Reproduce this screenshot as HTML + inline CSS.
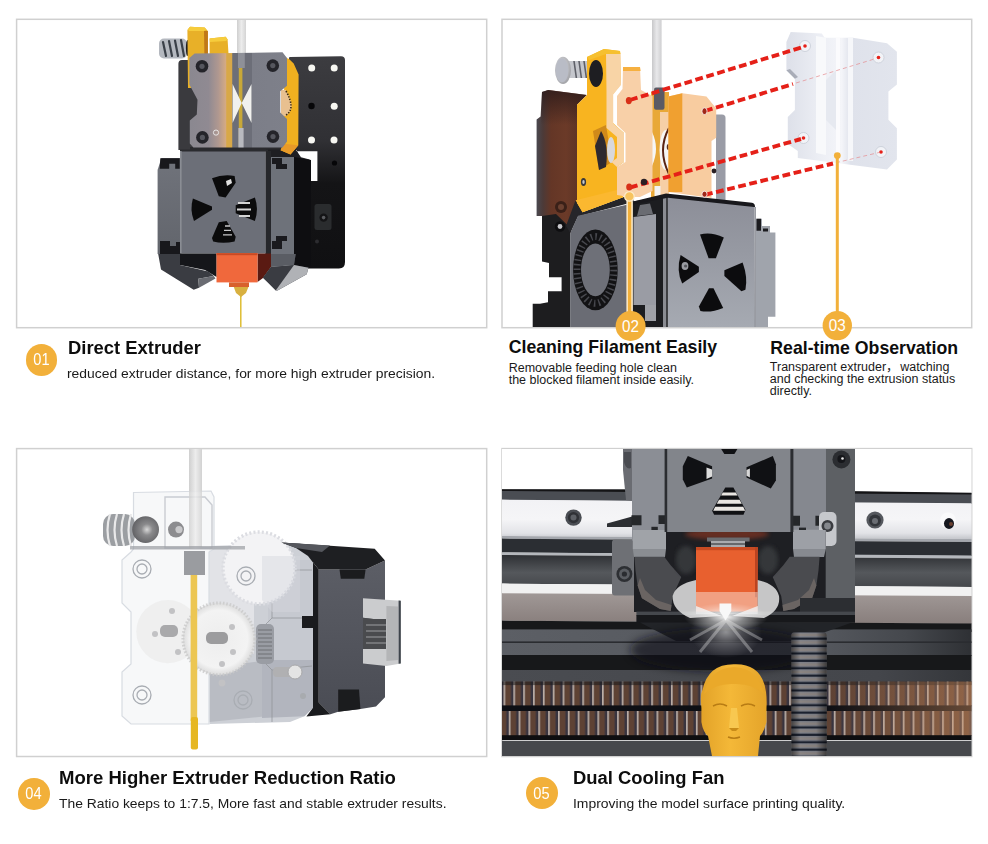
<!DOCTYPE html>
<html lang="en">
<head>
<meta charset="utf-8">
<title>Extruder Features</title>
<style>
html,body{margin:0;padding:0;background:#fff;}
body{width:988px;height:844px;position:relative;overflow:hidden;font-family:"Liberation Sans","Noto Sans CJK SC",sans-serif;color:#111;}
#art{position:absolute;left:0;top:0;width:988px;height:844px;display:block;}
.t{position:absolute;white-space:nowrap;line-height:1;transform-origin:0 0;}
.h{font-weight:bold;color:#0d0d0d;}
.s{color:#1a1a1a;}
.b{position:absolute;border-radius:50%;background:#f2b03a;color:#fff;text-align:center;font-size:17px;}
.b span{display:inline-block;transform:scaleX(0.86);}
</style>
</head>
<body>
<svg id="art" width="988" height="844" viewBox="0 0 988 844">
<defs>
<filter id="soft" x="-5%" y="-5%" width="110%" height="110%"><feGaussianBlur stdDeviation="0.6"/></filter>
<filter id="blur2" x="-10%" y="-10%" width="120%" height="120%"><feGaussianBlur stdDeviation="2"/></filter>
<filter id="blur4" x="-20%" y="-20%" width="140%" height="140%"><feGaussianBlur stdDeviation="4"/></filter>
<clipPath id="c1"><rect x="17" y="20" width="469" height="307"/></clipPath>
<clipPath id="c2"><rect x="502" y="20" width="469" height="307"/></clipPath>
<clipPath id="c3"><rect x="17" y="449" width="469" height="307"/></clipPath>
<clipPath id="c4"><rect x="502" y="449" width="469.5" height="307"/></clipPath>
</defs>
<!-- panel frames -->
<g fill="#fff" stroke="#d0d0d0" stroke-width="1.5">
<rect x="16.6" y="19.3" width="470.1" height="308.4"/>
<rect x="502" y="19.3" width="469.7" height="308.4"/>
<rect x="16.6" y="448.6" width="470.1" height="307.9"/>
<rect x="502" y="448.6" width="469.7" height="307.9"/>
</g>
<g id="p1" clip-path="url(#c1)">
<defs>
<linearGradient id="p1tube" x1="0" x2="1" y1="0" y2="0"><stop offset="0" stop-color="#cfcfcf"/><stop offset=".5" stop-color="#ececec"/><stop offset="1" stop-color="#d4d4d4"/></linearGradient>
<linearGradient id="p1cov" gradientUnits="userSpaceOnUse" x1="189" x2="287" y1="0" y2="0"><stop offset="0" stop-color="#8a8890"/><stop offset=".2" stop-color="#908a92"/><stop offset=".3" stop-color="#b09890"/><stop offset=".375" stop-color="#d4aa84"/><stop offset=".385" stop-color="#d8a848"/><stop offset=".44" stop-color="#d8a848"/><stop offset=".445" stop-color="#6c6e78"/><stop offset=".64" stop-color="#6c6e78"/><stop offset=".645" stop-color="#7c7e88"/><stop offset="1" stop-color="#7e808a"/></linearGradient>
<linearGradient id="p1plate" x1="0" x2="0" y1="0" y2="1"><stop offset="0" stop-color="#3c3c40"/><stop offset=".4" stop-color="#303034"/><stop offset=".6" stop-color="#141416"/><stop offset="1" stop-color="#101012"/></linearGradient>
<linearGradient id="p1side" x1="0" x2="0" y1="0" y2="1"><stop offset="0" stop-color="#70737b"/><stop offset="1" stop-color="#62656c"/></linearGradient>
</defs>
<!-- tube -->
<rect x="237" y="20" width="9" height="40" fill="url(#p1tube)"/>
<!-- spring -->
<g>
<rect x="159" y="38.5" width="28" height="20" rx="5" fill="#b4b8bf"/>
<g stroke="#3a4048" stroke-width="2.2" stroke-linecap="round"><path d="M163 42l3 14M169 41l3 15M175 40.5l3 15.5M181 40l3 16"/></g>
<ellipse cx="187.5" cy="48" rx="1.6" ry="8" fill="#1e1e22"/>
</g>
<!-- right black plate -->
<path d="M289 58 Q289 57 290 57 L341 56.3 Q345 56.5 345 60 L345 262 Q345 268.5 339 268.5 L297 268.5 L297 150 L289 150Z" fill="url(#p1plate)"/>
<!-- holes in plate -->
<g fill="#f7f7f2"><circle cx="311.7" cy="68" r="3.5"/><circle cx="334.2" cy="68" r="3.5"/><circle cx="334.2" cy="106.3" r="3.5"/><circle cx="311.5" cy="140" r="3.5"/><circle cx="334" cy="140" r="3.5"/></g>
<circle cx="311.5" cy="106" r="3.2" fill="#060608"/>
<circle cx="334.5" cy="163" r="2.6" fill="#060608"/>
<path d="M296.9 151.2 L317.4 151.2 L317.4 181 L311 181 L309.6 159.4 L301 157.3Z" fill="#fff"/>
<!-- back plate left -->
<path d="M178.4 64 Q178.4 60 182 60 L199 60 L199 150 L178.4 150Z" fill="#3a3a3e"/>
<rect x="190" y="147" width="97" height="3.4" fill="#2a2a2e"/>
<!-- yellow blocks top-left -->
<path d="M187.4 30 L190 26.7 L204.6 27.4 L207.9 31 L207.9 56 L194 56 L191 88 L188 88 Z" fill="#e8b028"/>
<path d="M187.6 29.6 L190 26.7 L204.6 27.4 L206.5 29.6 L204 31 L189 31Z" fill="#f6cc3c"/>
<path d="M204 31 L207.9 31 L207.9 56 L204.4 56Z" fill="#c07818"/>
<path d="M209.6 38.6 L225.7 36.7 L227.6 39.5 L228.6 56 L209.6 56Z" fill="#e8b028"/>
<path d="M209.6 38.6 L225.7 36.7 L227.6 39.5 L226 41 L210 42Z" fill="#f6cc3c"/>
<path d="M266 149.4 L296 149.4 L300 157.5 L294 160 L266 160Z" fill="#1e1e22"/>
<!-- right yellow -->
<path d="M284.5 57 L289 59 L293.7 63.5 L298.6 74.6 L298.3 145.2 L290.5 154.4 L280.6 150.2 L283.4 143.8Z" fill="#f0b020"/>
<path d="M283.4 143.8 L298.3 145.2 L290.5 154.4 L280.6 150.2Z" fill="#e89a28"/>
<path d="M281 90 L286 90 Q291.5 100 291.5 106 Q291.5 112 286 116 L281 116Z" fill="#e8c090"/>
<path d="M286 91 Q291 100 291 106 Q291 112 286 115" fill="none" stroke="#3a2a10" stroke-width="1.6" stroke-dasharray="1.4 1.4"/>
<!-- gray cover -->
<path d="M194.6 53.4 L282.5 52.3 L287 57.9 L287 85.7 L280.3 91.3 L280.3 112.4 L287 119 L287 141.5 L282.5 147.4 L193.4 147.4 L189.8 143.4 L189.8 120.6 L196.8 114.5 L197.5 99.7 L189.4 84.6 L189.4 57.9Z" fill="url(#p1cov)"/>
<!-- centre channel -->
<rect x="238.8" y="67" width="3.6" height="80" fill="#c8a838"/>
<rect x="238" y="53" width="6.8" height="15" fill="#8e9098"/>
<path d="M232.6 84 L241.7 103 L232.6 123Z M251.5 84 L241.7 103 L251.5 123Z" fill="#f1f1ee"/>
<rect x="238.4" y="128" width="5.2" height="19.4" fill="#b9bac0"/>
<!-- screws -->
<g fill="#24242a"><circle cx="202" cy="66.3" r="6.3"/><circle cx="272.8" cy="65.6" r="6.3"/><circle cx="202.4" cy="137.4" r="6.3"/><circle cx="273" cy="136.6" r="6.3"/></g>
<g fill="#55565e"><circle cx="202" cy="66.3" r="2.6"/><circle cx="272.8" cy="65.6" r="2.6"/><circle cx="202.4" cy="137.4" r="2.6"/><circle cx="273" cy="136.6" r="2.6"/></g>
<circle cx="216" cy="132.6" r="2.6" fill="none" stroke="#ececec" stroke-width="0.9"/>
<!-- fan / right dark -->
<path d="M294 157 L311 160 L311 266 L294 266Z" fill="#0e0e11"/>
<!-- screw mount -->
<rect x="314.5" y="204" width="17" height="26" rx="2.5" fill="#2a2c2e"/>
<circle cx="323.6" cy="217.6" r="4.2" fill="#141416"/><circle cx="323.6" cy="217.6" r="1.8" fill="#5a5c60"/>
<circle cx="317" cy="241.5" r="2" fill="#2c2c30"/>
<!-- cube sides -->
<path d="M157.6 170 L161.4 158 L180.5 158 L180.5 254 L157.6 254Z" fill="url(#p1side)"/>
<path d="M160.3 158.2 h19.4 v10.6 h-4.5 v-5 h-6 v5 h-9.5Z M160 241 h10 v5 h6 v-4 h4 v12 h-20Z" fill="#18181c"/>
<path d="M271 157 L294 157 L294 254 L271 254Z" fill="#6e727a"/>
<rect x="265.3" y="151" width="5.7" height="103" fill="#26272b"/>
<path d="M272 158 h10 v6 h5 v5 h-11 v-5 h-4Z M272 241 h4 v-5 h11 v5 h-5 v8 h-10Z" fill="#1a1a1e"/>
<!-- cube front -->
<path d="M180 151 L265.4 151 L265.4 253.4 L180 253.4Z" fill="#6c6f78"/>
<path d="M180 149.4 L268 149.4 L268 151.4 L180 151.4Z" fill="#2a2b2f"/>
<rect x="180" y="151" width="1.6" height="102.4" fill="#8a8d94"/>
<!-- cutouts -->
<g fill="#0b0b0c">
<path d="M212 178.3 Q223 174 234.6 176 L235.7 182.8 L225.6 197.4 L218.8 196.3Z"/>
<path d="M192.9 198.6 L212 206.4 L212 209.8 L194 221 Q189.6 210 192.9 198.6Z"/>
<path d="M235.7 205.3 L254.9 197.4 Q259 209 254.9 221 L235.7 213.2Z"/>
<path d="M218.8 222.2 L226.7 221 L235.7 236.8 L234.6 241.4 Q223 244 213.2 241.4 L212 238Z"/>
</g>
<g stroke="#d4d4d4" stroke-width="2"><path d="M238 203h12M237 209.5h14M239 216h11"/></g><g stroke="#c8c8c8" stroke-width="1.3"><path d="M225 226h5M224 230.4h7M223 234.8h9"/></g>
<path d="M226 181l5-2 1 4-5 3Z" fill="#e0e0e0"/>
<!-- under cube -->
<path d="M180 253.4 L216.6 253.4 L216.6 277 L205 270 L180 265Z" fill="#15161a"/>
<path d="M257.5 253.4 L271 253.4 L271 267 L263 278 L257.5 282Z" fill="#5a1a12"/>
<!-- ducts -->
<path d="M158.2 254 L180 254 L180 265 L208.3 271.4 L213.8 276 L198.3 278.7 L199 287.8 L193.7 289.7 L161 269.6Z" fill="#3a3c42"/>
<path d="M198.3 278.7 L213.8 276 L215.5 278.4 L199 287.8Z" fill="#6a6c72"/>
<path d="M263 277.8 L271 267 L294 265 L295.7 254 L294 254 L294 265 L308.5 267.8 L306.7 274.2 L277.5 290.6 L275.7 290.6Z" fill="#3a3c42"/>
<path d="M263 277.8 L271 267 L294 265 L277 290 Z" fill="#3a3c42"/>
<path d="M294 265 L308.5 267.8 L306.7 274.2 L277.5 290.6 L275.7 290.6Z" fill="#b0b2b6"/>
<path d="M271 254 L295.7 254 L294 265 L271 267Z" fill="#5a5d64"/>
<!-- orange block -->
<rect x="216.5" y="253.2" width="41" height="29.2" fill="#f0683c"/>
<rect x="216.5" y="253.2" width="41" height="2" fill="#c94a24"/>
<!-- nozzle -->
<rect x="229" y="282.4" width="20" height="4.6" fill="#d8602c"/>
<path d="M233.8 287 L248.4 287 L246 293 L241 297 L236 293Z" fill="#d8b040"/>
<path d="M240.8 296 L240.8 327" stroke="#dcb824" stroke-width="1.4"/>
</g>

<g id="p2" clip-path="url(#c2)">
<defs>
<linearGradient id="p2tube" x1="0" x2="1" y1="0" y2="0"><stop offset="0" stop-color="#c8c8ca"/><stop offset=".5" stop-color="#e8e8ea"/><stop offset="1" stop-color="#cfcfd1"/></linearGradient>
<linearGradient id="p2motor" gradientUnits="userSpaceOnUse" x1="536" x2="586" y1="0" y2="0"><stop offset="0" stop-color="#4a4a52"/><stop offset=".14" stop-color="#4c3a38"/><stop offset=".3" stop-color="#643626"/><stop offset=".6" stop-color="#6b3a28"/><stop offset="1" stop-color="#553024"/></linearGradient>
<linearGradient id="p2mtop" x1="0" x2="0" y1="0" y2="1"><stop offset="0" stop-color="#2a1a1a" stop-opacity=".8"/><stop offset="1" stop-color="#2a1a1a" stop-opacity="0"/></linearGradient>
<linearGradient id="p2cover" x1="0" x2="1" y1="0" y2="0"><stop offset="0" stop-color="#dde0e9"/><stop offset=".3" stop-color="#eceef4"/><stop offset=".5" stop-color="#f4f5f9"/><stop offset=".58" stop-color="#dfe2eb"/><stop offset="1" stop-color="#e2e5ed"/></linearGradient>
<linearGradient id="p2front" x1="0" x2="0" y1="0" y2="1"><stop offset="0" stop-color="#8c8e98"/><stop offset=".45" stop-color="#979aa3"/><stop offset="1" stop-color="#a6aab2"/></linearGradient>
<radialGradient id="p2silver" cx=".4" cy=".4" r=".7"><stop offset="0" stop-color="#e8e8ea"/><stop offset="1" stop-color="#9a9ba0"/></radialGradient>
</defs>
<!-- tube -->
<rect x="652" y="20" width="9.6" height="72" fill="url(#p2tube)"/>
<!-- motor block -->
<path d="M536.6 119.4 L540.6 116.4 L542 92 L548.2 90 L586.7 95.1 L577 104.7 L577 203.3 L583.8 211.8 L575.6 216 L570.4 233 L542 233 L542 216 L536.6 216Z" fill="url(#p2motor)"/>
<path d="M542 92 L548.2 90 L586.7 95.1 L577 104.7 L577 125 L541 125Z" fill="url(#p2mtop)"/>
<!-- black lower-left -->
<path d="M542 216 L556 214 L570.4 228 L570.4 327.5 L532.7 327.5 L532.7 303.8 L540 303.8 L548 302.2 L548 291.3 L561.6 291.3 L561.6 277.2 L549 277.2 L549 263 L542 261.6Z" fill="#1d1d1f"/>
<path d="M575.6 200.3 L582.5 212.3 L623.7 196.9 L633 195 L633.6 202 L578 216.5 L570.4 233 L566 226Z" fill="#26262a"/>
<circle cx="560" cy="226.5" r="5.2" fill="#0e0e10"/><circle cx="560" cy="226.5" r="2.4" fill="#c8c8cc"/>
<circle cx="561" cy="207" r="6" fill="#3a2018"/><circle cx="561" cy="207" r="3" fill="#6a4030"/>
<!-- spring button -->
<rect x="566" y="61" width="28" height="17" rx="3" fill="#c4c6cc"/>
<g stroke="#5e6068" stroke-width="1.6"><path d="M574 61l2.4 17M579 61l2.4 17M584 61l2.4 17M589 61l2.4 17"/></g>
<ellipse cx="563" cy="70.3" rx="8" ry="13.6" fill="url(#p2silver)"/>
<ellipse cx="562" cy="70.3" rx="6.4" ry="12" fill="#b9bcc6"/>
<!-- yellow body -->
<path d="M587 57 L604 49 L620 51 L621 84 L613 94 L613 123 L624 133 L624 162 L617 167 L617 196 L623.7 197 L582.5 212.3 L577 203 L577 104.7 L587 95Z" fill="#f8b420"/>
<path d="M575.6 200.3 L617 190 L623.7 196.9 L582.5 212.3Z" fill="#fbb830"/>
<ellipse cx="596" cy="73.5" rx="7" ry="13.4" fill="#1e1e22"/>
<path d="M593 131 L606 125 L612 162 L599 170Z" fill="#d08a1a"/>
<path d="M601 131 Q609 144 606 167 L599 170 L595 146Z" fill="#2e2a30"/>
<ellipse cx="611" cy="150" rx="4" ry="13" fill="#d8d8dc"/>
<path d="M606 53.5 L620.6 53.5 L621 85 L613.2 94.6 L613.2 123.4 L624 133 L624 162 L617 167 L611.5 162 L617 158 L617 137 L606.5 128 L606.5 92Z" fill="#f8d4a6"/>
<path d="M587 57 L604 49 L620 51 L620.6 54 L606 54 L589 60Z" fill="#f6c030"/>
<ellipse cx="583.5" cy="182" rx="2.6" ry="4" fill="#3a3a3c"/><ellipse cx="583.5" cy="182" rx="1.2" ry="2" fill="#c8c8c8"/>
<!-- gray plate behind right block -->
<path d="M716 114.5 L722 114.5 Q725.5 114.5 725.5 118 L725.5 200 L716 200Z" fill="#9a9ca6"/>
<!-- centre gap -->
<rect x="651" y="92" width="18" height="105" fill="#e8a838"/>
<rect x="660" y="112" width="9" height="85" fill="#f6cfa6"/>
<rect x="654" y="87.4" width="10.5" height="22.4" rx="2" fill="#5a5a64"/>
<path d="M652 132 Q660 148 652 166Z" fill="#f6f6f6"/>
<ellipse cx="666" cy="150" rx="6.5" ry="20" fill="#f6f6f6"/>
<path d="M669 128 Q657 150 669 174" fill="none" stroke="#5a2414" stroke-width="2"/>
<ellipse cx="668.5" cy="147" rx="1.8" ry="3" fill="#5a3020"/>
<rect x="654.5" y="186" width="6" height="10" fill="#f2f2f2"/>
<!-- peach face left -->
<path d="M623 67 L640 67 L641 90 L652.5 96 L652.5 191 L640 197 L630 197 L617 195 L617 167 L625.5 162 L625.5 133 L617 125 L617 96 L622.5 89Z" fill="#f8d0a8"/>
<path d="M623 67 L640 67 L640.6 71 L623 71Z" fill="#f6b040"/>
<!-- right block -->
<path d="M668.4 96.4 L682.3 93.3 L706.5 96.4 L716.2 108.6 L716.2 137.7 L711.5 141 L711.5 198 L668.4 192Z" fill="#f8cca0"/>
<path d="M668.4 96.4 L682.3 93.3 L682.3 192 L668.4 192Z" fill="#f0a030"/>
<!-- fan face -->
<path d="M570.3 233 L578 215.8 L625.6 204.9 L633.6 201.6 L633.6 327.5 L570.3 327.5Z" fill="#6a6c74"/>
<ellipse cx="595.4" cy="269.9" rx="22.3" ry="40.4" fill="#121214"/>
<ellipse cx="595.4" cy="269.9" rx="18.4" ry="33.4" fill="none" stroke="#6a6c74" stroke-width="7" stroke-dasharray="1.5 3.1" opacity=".6"/>
<ellipse cx="595.4" cy="269.9" rx="14.4" ry="26.4" fill="#6e7078"/>
<!-- cube left side -->
<path d="M633 201.6 L667.9 195.5 L667.9 327.5 L633 327.5Z" fill="#1c1d20"/>
<path d="M633.5 217 L656 214 L656 305 L633.5 305Z" fill="#9a9ca4"/>
<path d="M640 205 L650 203.5 L653 214 L637 216Z" fill="#6a6c72"/>
<rect x="663" y="198" width="3.3" height="129.5" fill="#8a8c92"/>
<rect x="645" y="305" width="11" height="16" fill="#a0a2a8"/>
<!-- cube top bevel + front -->
<path d="M667.9 196.2 L754.1 205.3 L754.7 327.5 L667.9 327.5Z" fill="url(#p2front)"/>
<path d="M633 201.6 L666 193.6 L752 202.8 Q755 203.4 755 207 L754.1 207 L667.9 197.8 L633 204.4Z" fill="#18181c"/>
<g fill="#0c0c0e">
<path d="M700 234.5 Q711 231.5 723.8 237.5 L715.9 258.2 L708.6 258.2Z"/>
<path d="M680.6 255.1 L698.9 266.7 L698.9 272 L682.2 283.6 Q676 271 680.6 255.1Z"/>
<path d="M724.4 270.3 L742.6 262.4 Q748 277 745.4 289.7 L741.4 291.2 L724.4 276Z"/>
<path d="M709 288.2 L713.5 288.2 L723.2 307.9 Q711 313 700.4 311 L698.9 306.4Z"/>
</g>
<ellipse cx="685" cy="266" rx="3.4" ry="4" fill="#9a9ca2"/><circle cx="685.6" cy="266" r="1.6" fill="#55575c"/>
<!-- cube right side -->
<path d="M756 218.7 L762 218.7 L762 226 L770 226 L770 232.6 L775.4 232.6 L775.4 316.8 L768 316.8 L768 327.5 L756 327.5Z" fill="#a0a4ac"/>
<path d="M756.5 218.7 h4.5 v12 h-4.5Z M763 228.5 h5 v3 h-5Z" fill="#1c1c20"/>
<rect x="754.4" y="207" width="1.4" height="120.5" fill="#80838c"/>
<!-- transparent cover -->
<path d="M790.7 32 L821.8 33.4 L824.7 37.7 L853 37.7 L887 43.3 L896.9 51.8 L896.9 84.4 L888.4 91.5 L888.4 119.8 L896.9 128.3 L896.9 159.5 L887 169.4 L797.8 158.1 L797.8 151 L787.8 143.9 L787.8 117 L794.9 109.9 L794.9 78.8 L786.4 70.3 L786.4 41.9Z" fill="url(#p2cover)"/>
<path d="M816 36 L826 37.7 L826 155 L816 153Z" fill="#f8f9fb"/>
<path d="M836 38 L840 38 L840 160 L836 159.5Z" fill="#fbfbfd"/>
<path d="M848 38 L853 38 L853 161 L848 160.5Z" fill="#f6f7fa"/>
<path d="M826 80 L836 70 L836 130 L826 120Z" fill="#e6e9f0"/>
<path d="M786.4 70.3 L794.9 78.8 L798 77 L790 69Z" fill="#a9adb8"/>
<g fill="#f2f3f7" stroke="#c6cbd6" stroke-width=".8"><circle cx="805" cy="46" r="5.5"/><circle cx="878.5" cy="57.5" r="5.5"/><circle cx="803.5" cy="138" r="5.5"/><circle cx="881" cy="152" r="5.5"/></g>
<!-- dashed lines -->
<g stroke="#e52018" stroke-width="3.9" stroke-dasharray="7.8 3.6" fill="none">
<path d="M630 100 L803 47"/>
<path d="M705 111 L793 84"/>
<path d="M630 187.5 L801 139"/>
<path d="M705 194.8 L833 163.5"/>
</g>
<g stroke="#e58a8e" stroke-width="1" stroke-dasharray="4 3" fill="none" opacity=".7"><path d="M796 83 L876 58.5"/><path d="M836 162.7 L879 152.5"/></g>
<g fill="#e52018"><circle cx="805" cy="46" r="1.8"/><circle cx="878.5" cy="57.5" r="1.8"/><circle cx="803.5" cy="138" r="1.8"/><circle cx="881" cy="152" r="1.8"/></g>
<!-- holes -->
<g fill="#d83018"><ellipse cx="628.8" cy="100.6" rx="3" ry="3.6"/><ellipse cx="629.2" cy="187" rx="3" ry="3.6"/></g>
<g fill="#a02818" stroke="#fff" stroke-width=".8"><ellipse cx="704.5" cy="111.2" rx="2.6" ry="3.4"/><ellipse cx="704.5" cy="194.2" rx="2.6" ry="3"/></g>
<circle cx="644" cy="182" r="3.2" fill="#2a2024"/>
<circle cx="714" cy="171" r="2.4" fill="#2a2024"/>
</g>
<!-- callout lines (not clipped) -->
<g id="callouts">
<path d="M629.6 197 L629.6 312" stroke="#fdeccb" stroke-width="6.4"/>
<path d="M629.6 197 L629.6 312" stroke="#f2b03a" stroke-width="3.4"/>
<circle cx="629.4" cy="196.4" r="4.8" fill="#f7c35e" stroke="#fdeccb" stroke-width="1.2"/>
<circle cx="630.6" cy="326" r="15" fill="#f2b03a"/>
<path d="M837.3 156 L837.3 312" stroke="#f2b03a" stroke-width="3"/>
<circle cx="837.3" cy="155.6" r="3.4" fill="#f2b03a"/>
<circle cx="837.3" cy="325.6" r="14.7" fill="#f2b03a"/>
<g font-family="'Liberation Sans',sans-serif" font-size="17" fill="#fff" text-anchor="middle">
<text x="630.6" y="331.8" textLength="17" lengthAdjust="spacingAndGlyphs">02</text>
<text x="837.3" y="331.4" textLength="17" lengthAdjust="spacingAndGlyphs">03</text>
</g>
</g>

<g id="p3" clip-path="url(#c3)">
<defs>
<linearGradient id="p3tube" x1="0" x2="1" y1="0" y2="0"><stop offset="0" stop-color="#cfcfcf"/><stop offset=".5" stop-color="#ececec"/><stop offset="1" stop-color="#d2d2d2"/></linearGradient>
<linearGradient id="p3side" x1="0" x2="0" y1="0" y2="1"><stop offset="0" stop-color="#5c5e66"/><stop offset="1" stop-color="#4a4c54"/></linearGradient>
<radialGradient id="p3ball" cx=".55" cy=".5" r=".6"><stop offset="0" stop-color="#d8d8d8"/><stop offset=".35" stop-color="#8a8a8c"/><stop offset="1" stop-color="#5c5c5f"/></radialGradient>
<radialGradient id="p3gear" cx=".5" cy=".5" r=".5"><stop offset="0" stop-color="#ededed"/><stop offset=".8" stop-color="#f3f3f3"/><stop offset="1" stop-color="#dcdcdc"/></radialGradient>
</defs>
<!-- tube -->
<rect x="189" y="449" width="13" height="44" fill="url(#p3tube)"/>
<!-- motor right side -->
<path d="M318.7 569.5 L365.6 569.5 L385 560.4 L385 697.3 L376 706.4 L360.4 709 L338.2 711.7 L330.4 714.3 L318.7 702.5Z" fill="url(#p3side)"/>
<path d="M339.5 569.5 L365.6 569.5 L364.3 578.7 L340.8 578.7Z" fill="#1b1c1e"/>
<path d="M338.2 689.5 L359 689.5 L360.4 709 L338.2 711.7Z" fill="#1b1c1e"/>
<!-- translucent housing -->
<path d="M209.5 546 L300 543 L313 560 L313 616 L302 616 L302 628 L313 628 L313 707.7 L304.4 716.2 L290 722 L209.5 724Z" fill="#cdd0d6"/>
<path d="M209.5 546 L254 546 L254 654 L209.5 654Z" fill="#e2e3e7"/>
<path d="M209.5 668 L269 660 L269 716 L209.5 722Z" fill="#b9bcc3"/>
<path d="M268 560 L313 560 L313 616 L302 616 L302 628 L313 628 L313 660 L268 660Z" fill="#c6c9d0"/><path d="M262 660 L313 660 L313 707.7 L304.4 716.2 L262 718Z" fill="#b2b5be"/>
<g fill="none" stroke="#8e9195" stroke-width=".7"><path d="M262 556 L272 570 L272 618 L262 628 L262 660 L272 670 L272 722"/><path d="M272 570 L312 570"/><path d="M272 618 L302 618"/><path d="M272 670 L312 666"/></g>
<!-- big top gear -->
<circle cx="259" cy="568" r="36" fill="#f3f3f5"/>
<circle cx="259" cy="568" r="36" fill="none" stroke="#dcdde2" stroke-width="3.4" stroke-dasharray="2 2.2"/>
<path d="M262 556 L300 556 L300 612 L272 612 L262 600Z" fill="#d4d7dd" opacity=".45"/>
<!-- motor top face + bezel (in front of housing) -->
<path d="M281.5 542.5 L374.7 548.7 L385 560.4 L365.6 569.5 L318.7 569.5 L308 556 L296 548Z" fill="#1e1f22"/>
<path d="M281.5 542.5 L330 545.5 L322 552 L296 548Z" fill="#55575d"/>
<path d="M308 556 L318.7 569.5 L318.7 702.5 L330.4 714.3 L306.4 716.5 L313 707.7 L313 628 L302 628 L302 616 L313 616 L313 562Z" fill="#1a1b1e"/>
<!-- small dark gear -->
<rect x="256" y="624" width="18" height="40" rx="5" fill="#9a9da4"/>
<g stroke="#6e7174" stroke-width="1"><path d="M258 630h14M258 634h14M258 638h14M258 642h14M258 646h14M258 650h14M258 654h14M258 658h14"/></g>
<!-- front plate (transparent) -->
<path d="M133.5 492.5 L211 491 L214 497 L214 549 L209 552 L209 724 L131 724 L122 716 L122 672 L131 664 L131 612 L122 603 L122 560 L131 552 L133.5 549Z" fill="#f5f6f8" opacity=".8"/>
<path d="M133.5 492.5 L211 491 L214 497 L214 549 L209 552 L209 724 L131 724 L122 716 L122 672 L131 664 L131 612 L122 603 L122 560 L131 552 L133.5 549Z" fill="none" stroke="#d8dce2" stroke-width="1.2"/>
<path d="M165 497 L205 497 L212 505 L212 548 L165 548Z" fill="none" stroke="#c9ccd2" stroke-width="1.4"/>
<rect x="189" y="449" width="13" height="100" fill="url(#p3tube)" opacity=".8"/>
<!-- gears lower -->
<circle cx="167.9" cy="631.6" r="31.6" fill="#ececec" opacity=".8"/>
<circle cx="218.9" cy="638.9" r="36" fill="url(#p3gear)"/>
<circle cx="218.9" cy="638.9" r="36" fill="none" stroke="#c9c9c9" stroke-width="3" stroke-dasharray="1.6 1.8" opacity=".8"/>
<g fill="#c2c2c4"><circle cx="232" cy="627" r="3"/><circle cx="233" cy="652" r="3"/><circle cx="222" cy="664" r="3"/><circle cx="222" cy="683" r="3.4"/><circle cx="172" cy="611" r="3"/><circle cx="155" cy="634" r="3"/><circle cx="178" cy="652" r="3"/></g>
<rect x="206" y="632" width="22" height="12" rx="5" fill="#9c9c9e"/>
<rect x="160" y="625" width="18" height="12" rx="5" fill="#a9a9ab"/>
<!-- screw bosses -->
<g fill="none" stroke="#a9adb3" stroke-width="1.3"><circle cx="142" cy="569" r="9"/><circle cx="142" cy="569" r="5"/><circle cx="142" cy="695" r="9"/><circle cx="142" cy="695" r="5"/><circle cx="246" cy="576" r="9"/><circle cx="246" cy="576" r="5"/><circle cx="243" cy="700" r="9"/><circle cx="243" cy="700" r="5"/></g>
<!-- screw in housing -->
<rect x="273" y="667" width="20" height="10" rx="4" fill="#b0b0b2"/><circle cx="295" cy="672" r="7" fill="#e4e4e4" stroke="#a8a8aa" stroke-width="1"/>
<circle cx="303" cy="696" r="3" fill="#a8abaf"/>
<!-- coupling -->
<rect x="184" y="551" width="21" height="24" fill="#8a8c90" opacity=".85"/>
<rect x="130" y="546" width="115" height="3.5" fill="#9a9da2" opacity=".7"/>
<!-- spring + ball -->
<rect x="103" y="514" width="32" height="32" rx="10" fill="#9b9ea2"/>
<g stroke="#e9e9ea" stroke-width="2.2" fill="none"><path d="M110 514q-5 16 0 32M117 514q-5 16 0 32M124 514q-5 16 0 32M131 514q-5 16 0 32"/></g>
<circle cx="145.6" cy="529.6" r="13.4" fill="url(#p3ball)"/>
<circle cx="176" cy="529.6" r="8" fill="#8c8c8f"/><circle cx="179" cy="529.6" r="3.6" fill="#c9c9cb"/>
<!-- filament yellow -->
<rect x="190.6" y="575" width="6.6" height="146" fill="#ecc652"/>
<rect x="190.8" y="717" width="7.2" height="32.6" rx="2" fill="#e6b722"/>
<!-- connector -->
<path d="M363 598.2 L400.8 600.8 L400.8 663.4 L386.4 666 L363 663.4 L363 649 L373.4 649 L373.4 619 L363 617.8Z" fill="#cbccce"/>
<path d="M363 617.8 L373.4 619 L386 619 L386 649 L363 649Z" fill="#4a4b4e"/>
<g stroke="#9c9da0" stroke-width="1.2"><path d="M366 625h20M366 631h20M366 637h20M366 643h20"/></g>
<path d="M386.4 606 L398 606.5 L398 660 L386.4 661Z" fill="#b4b5b7"/>
<path d="M398.6 600.6 L400.8 600.8 L400.8 663.4 L398.6 663.8Z" fill="#3e444b"/>
</g>

<g id="p4" clip-path="url(#c4)">
<defs>
<linearGradient id="p4rail" x1="0" x2="0" y1="0" y2="1"><stop offset="0" stop-color="#f2f2f5"/><stop offset=".5" stop-color="#f5f5f7"/><stop offset=".85" stop-color="#e2e3e7"/><stop offset="1" stop-color="#c4c6cb"/></linearGradient>
<linearGradient id="p4grey" x1="0" x2="0" y1="0" y2="1"><stop offset="0" stop-color="#a09896"/><stop offset="1" stop-color="#887e7c"/></linearGradient>
<linearGradient id="p4d1" x1="0" x2="0" y1="0" y2="1"><stop offset="0" stop-color="#2e3034"/><stop offset=".55" stop-color="#55585c"/><stop offset="1" stop-color="#45474b"/></linearGradient>
<pattern id="p4teeth" x="503.5" y="0" width="9.85" height="10" patternUnits="userSpaceOnUse"><rect x="0" y="0" width="9.85" height="10" fill="#38343f"/><rect x="1.6" y="0" width="5.8" height="10" fill="#5e4234"/><rect x="0" y="0" width="1.7" height="10" fill="#bcaea6"/></pattern>
<pattern id="p4ribs" x="0" y="632.3" width="10" height="7.4" patternUnits="userSpaceOnUse"><rect width="10" height="7.4" fill="#1c2230"/><rect y="0" width="10" height="5.2" fill="#7e8088"/><rect y="1.4" width="10" height="2.4" fill="#8a8482"/></pattern>
<linearGradient id="p4bandh" gradientUnits="userSpaceOnUse" x1="502" x2="972" y1="0" y2="0"><stop offset="0" stop-color="#5c5f65"/><stop offset=".7" stop-color="#53565c"/><stop offset=".86" stop-color="#45484d"/><stop offset="1" stop-color="#2e3034"/></linearGradient>
<linearGradient id="p4bandh2" gradientUnits="userSpaceOnUse" x1="502" x2="972" y1="0" y2="0"><stop offset="0" stop-color="#4a4c51"/><stop offset=".8" stop-color="#44464b"/><stop offset="1" stop-color="#34363a"/></linearGradient>
<linearGradient id="p4tan" x1="0" x2="1" y1="0" y2="0"><stop offset="0" stop-color="#d09060" stop-opacity="0"/><stop offset="1" stop-color="#d09060" stop-opacity=".45"/></linearGradient>
<pattern id="p4teeth2" x="498.9" y="0" width="9.85" height="10" patternUnits="userSpaceOnUse"><rect x="0" y="0" width="9.85" height="10" fill="#38343f"/><rect x="1.6" y="0" width="5.8" height="10" fill="#5e4234"/><rect x="0" y="0" width="1.7" height="10" fill="#bcaea6"/></pattern>
<radialGradient id="p4air" cx=".5" cy=".5" r=".5"><stop offset="0" stop-color="#fff" stop-opacity=".95"/><stop offset=".45" stop-color="#fff" stop-opacity=".4"/><stop offset="1" stop-color="#fff" stop-opacity="0"/></radialGradient>
<linearGradient id="p4head" x1="0" x2="1" y1="0" y2="0"><stop offset="0" stop-color="#e2a228"/><stop offset=".45" stop-color="#f4b838"/><stop offset="1" stop-color="#e4a42a"/></linearGradient>
<linearGradient id="p4cond" x1="0" x2="1" y1="0" y2="0"><stop offset="0" stop-color="#000" stop-opacity=".5"/><stop offset=".25" stop-color="#000" stop-opacity="0"/><stop offset=".7" stop-color="#000" stop-opacity=".05"/><stop offset="1" stop-color="#000" stop-opacity=".55"/></linearGradient>
</defs>
<!-- background bands : left profile -->
<g id="p4bands">
<rect x="502" y="449" width="470" height="46" fill="#ffffff"/>
<path d="M502 489.4 L740 490 L972 493.2 L972 504 L502 500Z" fill="#4a4d53"/>
<path d="M502 489.2 L740 489.6 L972 492.8 L972 494.6 L502 491Z" fill="#141416"/>
<path d="M502 499.6 L972 503.3 L972 539 L502 536Z" fill="url(#p4rail)"/>
<path d="M502 536 L972 539 L972 542 L502 538.6Z" fill="#a4a7ad"/>
<path d="M502 538.6 L972 542 L972 556 L502 552.4Z" fill="#2b2e33"/>
<path d="M502 552.4 L972 555.4 L972 558.4 L502 555Z" fill="#b4b7bc"/>
<path d="M502 555 L972 558.4 L972 587 L502 583.6Z" fill="url(#p4d1)"/>
<path d="M502 583.6 L972 587 L972 596 L502 593.3Z" fill="#f1f1f1"/>
<path d="M502 593.3 L972 596 L972 624 L502 620.6Z" fill="url(#p4grey)"/>
<path d="M502 620.6 L972 623.6 L972 632 L502 630.7Z" fill="#17181a"/>
<rect x="502" y="629.4" width="470" height="26.6" fill="url(#p4bandh)"/>
<rect x="502" y="641.4" width="470" height="1.6" fill="#2a2c30"/>
<rect x="502" y="655" width="470" height="15" fill="#17181a"/>
<rect x="502" y="670" width="470" height="12" fill="url(#p4bandh2)"/>
<rect x="502" y="681.6" width="470" height="24.6" fill="url(#p4teeth)"/>
<rect x="502" y="681.6" width="470" height="3.5" fill="#1a1a1c" opacity=".55"/>
<rect x="502" y="705.4" width="470" height="5.8" fill="#0e0f14"/>
<rect x="502" y="711" width="470" height="25" fill="url(#p4teeth2)"/>
<rect x="830" y="681.6" width="142" height="54.4" fill="url(#p4tan)"/>
<rect x="502" y="735.2" width="470" height="5" fill="#0e0e10"/>
<rect x="502" y="741" width="470" height="16" fill="#46484c"/>
</g>
<!-- rail screws -->
<g><circle cx="573.5" cy="517.6" r="8.2" fill="#4a4d53"/><circle cx="573.5" cy="517.6" r="5.6" fill="#2f3136"/><circle cx="573.5" cy="517.6" r="3" fill="#5d6066"/></g>
<g><circle cx="875" cy="520" r="8.6" fill="#55585e"/><circle cx="875" cy="520.6" r="6" fill="#33363b"/><circle cx="875" cy="521" r="3" fill="#6a6d73"/></g>
<g><circle cx="948" cy="520.5" r="8" fill="#fafafb"/><ellipse cx="949" cy="523.5" rx="5" ry="5.4" fill="#16181f"/><circle cx="951" cy="524" r="2" fill="#6a4030"/></g>
<!-- left clamp -->
<rect x="612" y="539.4" width="24" height="56" rx="3" fill="#6e7075"/>
<circle cx="624.4" cy="574" r="8" fill="#2d2f33"/><circle cx="624.4" cy="574" r="5.4" fill="#5a5d62"/><circle cx="624.4" cy="574" r="2.6" fill="#2a2c30"/>
<path d="M607 523.5 L634 516 L634 527 L607 527Z" fill="#2c2e32"/>
<!-- head body -->
<path d="M632 449 L855 449 L855 598 L800 598 L800 612 L636 612 L636 545 L632 540Z" fill="#8b8e95"/>
<rect x="825.8" y="449" width="29.2" height="149" fill="#5d6064"/>
<rect x="793" y="449" width="32.8" height="80" fill="#85888f"/>
<path d="M623 449 L632 449 L632 501 L626 500 L623 470Z" fill="#6a6c72"/>
<path d="M624 452 L631 452 L631 468 Q626 470 624 462Z" fill="#4a4c52"/>
<!-- latch details -->
<path d="M631.5 515.3 h10 v10 h-10Z M658.5 515.3 h7.1 v8.6 h-7.1Z" fill="#25272a"/>
<rect x="651.4" y="526.8" width="6.4" height="3.6" fill="#25272a"/>
<path d="M792 515.8 h8 v10 h-8Z M815.4 515.8 h10.1 v10 h-10.1Z" fill="#25272a"/>
<rect x="799" y="527.6" width="7" height="3.2" fill="#25272a"/>
<!-- right bracket + screws -->
<circle cx="841.4" cy="459.5" r="9" fill="#2b2d31"/><circle cx="841.4" cy="459" r="4" fill="#15161a"/><circle cx="842.5" cy="458.5" r="1.3" fill="#e8e8e8"/>
<rect x="819" y="512" width="17.5" height="34" rx="5" fill="#c6c8cc"/>
<circle cx="827.5" cy="526" r="6" fill="#3a3c40"/><circle cx="827.5" cy="526" r="3.4" fill="#85888d"/>
<!-- cavity -->
<path d="M634 531.5 L825.8 531.5 L825.8 612 L634 612Z" fill="#1e1f23"/>
<ellipse cx="727" cy="534" rx="42" ry="6" fill="#a03a24" opacity=".55" filter="url(#blur2)"/>
<!-- ducts -->
<path d="M632.8 530 L666 530 L666 549 L632.8 549Z" fill="#a0a3a8"/>
<path d="M632.8 549 L666 549 L665 557 L634 557Z" fill="#8a8d92"/>
<path d="M793 530 L825.8 530 L825.8 549 L793 549Z" fill="#9da0a6"/>
<path d="M793 549 L825.8 549 L824 557 L794 557Z" fill="#878a90"/>
<path d="M634.4 556.7 L664.3 556.7 L670.7 565.2 L679.2 574.8 L681.3 577.0 L672.8 596.0 L670.7 611.0 L660.0 609.0 L641.9 598.3 L637.6 585.5 L635.5 570.5Z" fill="#4a4b4f"/>
<path d="M637.6 585.5 L641.9 598.3 L660.0 609.0 L670.7 611.0 L671.5 605.0 L656.0 600.0 L645.0 590.0 L640.0 578.0Z" fill="#6a6462"/>
<path d="M819.6 556.7 L789.7 556.7 L783.3 565.2 L774.8 574.8 L772.7 577.0 L781.2 596.0 L783.3 611.0 L794.0 609.0 L812.1 598.3 L816.4 585.5 L818.5 570.5Z" fill="#4a4b4f"/>
<path d="M816.4 585.5 L812.1 598.3 L794.0 609.0 L783.3 611.0 L782.5 605.0 L798.0 600.0 L809.0 590.0 L814.0 578.0Z" fill="#6a6462"/>
<ellipse cx="686" cy="560" rx="10" ry="14" fill="#3a3c40" opacity=".8" filter="url(#blur2)"/>
<ellipse cx="768" cy="560" rx="10" ry="14" fill="#3a3c40" opacity=".8" filter="url(#blur2)"/>
<!-- heat break -->
<rect x="707" y="537.5" width="42.6" height="4" fill="#6a6c70"/>
<rect x="711" y="541" width="34" height="6.6" fill="#a9abae"/>
<rect x="711" y="543.4" width="34" height="1.2" fill="#3a3c40"/>
<!-- orange block -->
<rect x="696" y="547.2" width="61.7" height="66.6" fill="#e8602f"/>
<rect x="696" y="547.2" width="61.7" height="3" fill="#c74a22"/>
<rect x="755" y="547.2" width="2.7" height="50" fill="#bb4320"/>
<!-- front panel -->
<rect x="666" y="449" width="125.5" height="83" fill="#82858b"/>
<rect x="664.6" y="449" width="2.6" height="83" fill="#2b2d31"/>
<rect x="790.4" y="449" width="3" height="83" fill="#2b2d31"/>
<g fill="#101114">
<path d="M682.8 466.3 L687.8 456.1 L712.1 466.3 L712.1 478.4 L686.8 487.5 L682.8 479.4Z"/>
<path d="M746.5 467.3 L772.8 456.1 L775.9 464.2 L775.9 480.4 L770.8 488.5 L746.5 477.4Z"/>
<path d="M725.3 487.5 L733.4 487.5 L745.5 509.8 L743.5 514.8 L714.1 514.8 L712.1 510.8Z"/>
<path d="M721.2 449 L737.4 449 L734.4 454 L724.3 454Z"/>
</g>
<g fill="#e9e6e2"><path d="M722.8 492.6h13l1.7 3h-16.4Z"/><path d="M719 499.7h20.6l2.2 4h-25Z"/><path d="M715.2 506.7h28l2 4h-32Z"/></g>
<path d="M706.5 467.5 l5.6 2 v7 l-5.6 2.4Z" fill="#dcdcdc"/><path d="M746.5 470 l3.4 -1.6 v9 l-3.4 -1.6Z" fill="#d6d6d6"/>
<!-- bottom plate -->
<path d="M855 598 L855 615.5 L800 615.5 L800 598Z" fill="#2c2e32"/>
<rect x="636.4" y="611.6" width="218.6" height="4" fill="#45484d"/>
<rect x="636.4" y="615" width="218.6" height="7.8" fill="#17181b"/>
<path d="M640 622.6 L852 622.6 L800 641 L676 641Z" fill="#222428"/>
<ellipse cx="722" cy="650" rx="92" ry="22" fill="#101114" opacity=".62" filter="url(#blur4)"/>
<!-- air flow -->
<g filter="url(#soft)">
<path d="M696 580 L696 606 L722 616 L690 618 Q672 610 672.6 596 Q676 584 696 580Z" fill="#e4e4e4" opacity=".85"/>
<path d="M757.7 580 L757.7 606 L732 616 L764 618 Q781 610 779 596 Q776 584 757.7 580Z" fill="#e4e4e4" opacity=".85"/>
<rect x="696" y="592" width="61.7" height="22" fill="#fff" opacity=".4"/>
</g>
<ellipse cx="726" cy="617" rx="42" ry="14" fill="url(#p4air)"/>
<ellipse cx="726" cy="632" rx="36" ry="26" fill="url(#p4air)" opacity=".55"/>
<g stroke="#fff" stroke-opacity=".3" stroke-width="3" filter="url(#soft)"><path d="M726 620 L700 652M726 620 L752 652M726 620 L690 640M726 620 L762 640"/></g>
<path d="M719.5 603.5 L731.3 603.5 L731.3 611 L725.6 620.5 L719.5 611Z" fill="#f8f8f8"/>
<!-- conduit -->
<rect x="791.5" y="632.3" width="35.2" height="125" rx="3" fill="url(#p4ribs)"/>
<rect x="791.5" y="632.3" width="35.2" height="125" rx="3" fill="url(#p4cond)"/>
<!-- yellow head -->
<path d="M734 664.2 Q762 663 766 692 Q767 700 766.5 708 L766.5 722 Q764 732 760 736 L758 756 L712 756 L708 736 Q703 732 701.4 722 L701.4 708 Q700 694 702.5 690 Q708 664 734 664.2Z" fill="url(#p4head)"/>
<path d="M704 694 Q710 668 734 667 Q758 668 764 694 Q752 683 734 684 Q716 683 704 694Z" fill="#eaa92a"/>
<g stroke="#b87c14" stroke-width="1.5" fill="none"><path d="M713 706 q7 -4 14 0M741 706 q7 -4 14 0"/><path d="M728 737 q6 2.4 12 0"/></g>
<path d="M731 708 L729 728 L739 728 L737 708Z" fill="#f8c850"/>
<path d="M729 728 L739 728 L736 731 L732 731Z" fill="#c98c18"/>
</g>

</svg>

<div class="b" style="left:25.5px;top:344.2px;width:31.6px;height:31.6px;line-height:32.6px;"><span>01</span></div>
<div class="t h" style="left:68.4px;top:339.6px;font-size:17.5px;transform:scaleX(1.052);">Direct Extruder</div>
<div class="t s" style="left:66.6px;top:367.4px;font-size:13.4px;transform:scaleX(1.037);">reduced extruder distance, for more high extruder precision.</div>

<div class="t h" style="left:508.7px;top:339.1px;font-size:17.7px;">Cleaning Filament Easily</div>
<div class="t s" style="left:508.7px;top:361.8px;font-size:12.5px;">Removable feeding hole clean</div>
<div class="t s" style="left:508.7px;top:373.5px;font-size:12.5px;">the blocked filament inside easily.</div>

<div class="t h" style="left:770.3px;top:339.6px;font-size:17.7px;">Real-time Observation</div>
<div class="t s" style="left:769.8px;top:360.6px;font-size:12.5px;">Transparent extruder，<span style="margin-left:1.6px">watching</span></div>
<div class="t s" style="left:769.8px;top:372.7px;font-size:12.5px;">and checking the extrusion status</div>
<div class="t s" style="left:769.8px;top:384.8px;font-size:12.5px;">directly.</div>

<div class="b" style="left:18px;top:778.2px;width:31.6px;height:31.6px;line-height:32.6px;"><span>04</span></div>
<div class="t h" style="left:58.6px;top:769.9px;font-size:17.6px;transform:scaleX(1.054);">More Higher Extruder Reduction Ratio</div>
<div class="t s" style="left:58.6px;top:796.9px;font-size:13.4px;transform:scaleX(1.035);">The Ratio keeps to 1:7.5, More fast and stable extruder results.</div>

<div class="b" style="left:525.8px;top:776.6px;width:32px;height:32px;line-height:33px;"><span>05</span></div>
<div class="t h" style="left:573.4px;top:769.9px;font-size:17.6px;transform:scaleX(1.047);">Dual Cooling Fan</div>
<div class="t s" style="left:572.7px;top:796.9px;font-size:13.4px;transform:scaleX(1.04);">Improving the model surface printing quality.</div>
</body>
</html>
